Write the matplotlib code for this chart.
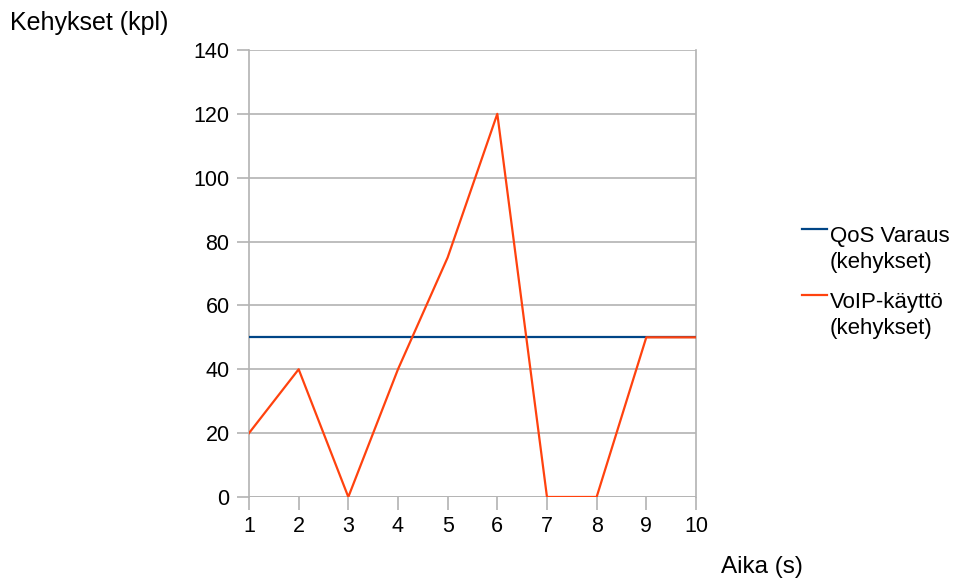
import matplotlib.pyplot as plt
from matplotlib.lines import Line2D

plt.rcParams['font.family'] = ['Liberation Sans', 'DejaVu Sans']

# Data.
aika = [1, 2, 3, 4, 5, 6, 7, 8, 9, 10]
qos_varaus = [50, 50, 50, 50, 50, 50, 50, 50, 50, 50]
voip_kaytto = [20, 40, 0, 40, 75, 120, 0, 0, 50, 50]
y_ticks = [0, 20, 40, 60, 80, 100, 120, 140]
series_labels = ['QoS Varaus\n(kehykset)', 'VoIP-käyttö\n(kehykset)']

grid_color = '#b3b3b3'
W, H = 961, 581

fig = plt.figure(figsize=(W / 100, H / 100), dpi=100)
ax = fig.add_axes([0.2591, 0.1446, 0.4651, 0.7694])

l1, = ax.plot(aika, qos_varaus, color='#004586', linewidth=1.6, zorder=3)
l2, = ax.plot(aika, voip_kaytto, color='#ff420e', linewidth=1.6, zorder=4)

ax.set_xlim(1, 10)
ax.set_ylim(0, 140)
ax.set_xticks(aika)
ax.set_yticks(y_ticks)
ax.yaxis.grid(True, color=grid_color, linewidth=1.2)
ax.set_axisbelow(True)

for side in ['top', 'bottom']:
    ax.spines[side].set_visible(False)
for side in ['left', 'right']:
    ax.spines[side].set_color(grid_color)
    ax.spines[side].set_linewidth(1.2)
ax.axhline(0, color=grid_color, linewidth=1.2, zorder=1)

ax.tick_params(axis='both', color=grid_color, width=1.2, length=9,
               labelsize=15.5, labelcolor='black')
ax.tick_params(axis='x', pad=5)
ax.tick_params(axis='y', pad=5)

fig.text(0.010, 0.960, 'Kehykset (kpl)', fontsize=18, ha='left', va='center')
fig.text(0.835, 0.024, 'Aika (s)', fontsize=17.5, ha='right', va='center')

# Legend drawn by hand: handle sits at the top of the first text line.
# base = baseline of the first line (pixels from top); baseline align uses last line.
for line, label, base in zip([l1, l2], series_labels, [242, 308]):
    hy = 1 - (base - 13) / H
    fig.add_artist(Line2D([802 / W, 827 / W], [hy, hy], color=line.get_color(),
                          linewidth=1.6, transform=fig.transFigure))
    fig.text(830 / W, 1 - (base + 26) / H, label, fontsize=16, ha='left',
             va='baseline', linespacing=1.33)

fig.savefig('out.png', dpi=100)
